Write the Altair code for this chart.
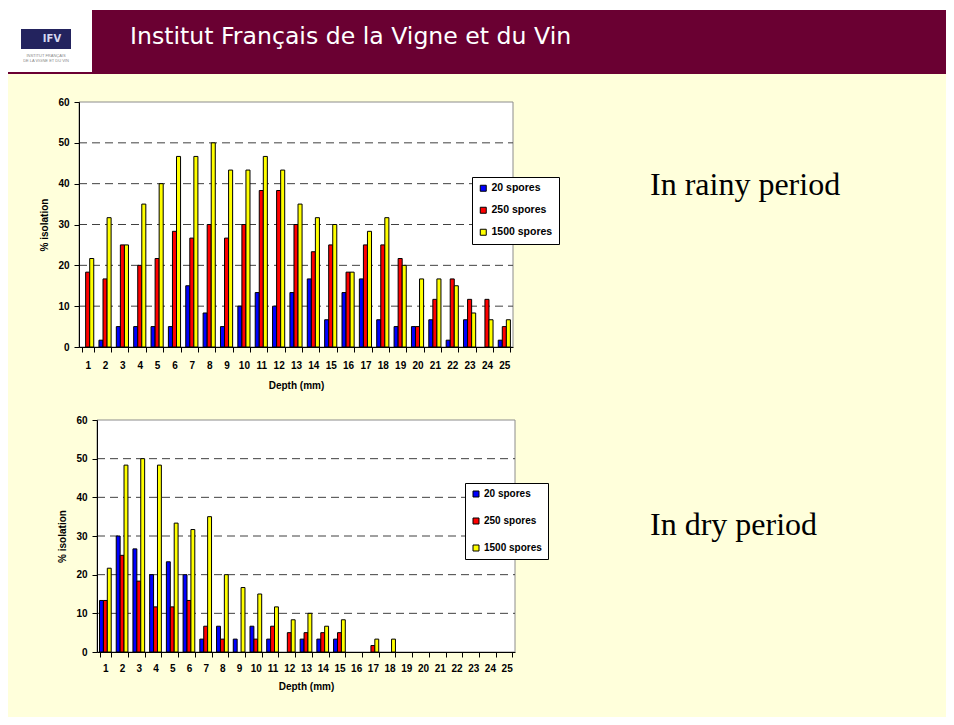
import altair as alt
import pandas as pd

# ---------------- data ----------------
depth = list(range(1, 26))
series_names = ["20 spores", "250 spores", "1500 spores"]
series_colors = ["#0000FF", "#FF0000", "#FFFF00"]
y_ticks = [0, 10, 20, 30, 40, 50, 60]
grid_values = [10, 20, 30, 40, 50]

rainy_20 = [0, 1.67, 5, 5, 5, 5, 15, 8.33, 5, 10, 13.33, 10, 13.33, 16.67, 6.67,
            13.33, 16.67, 6.67, 5, 5, 6.67, 1.67, 6.67, 0, 1.67]
rainy_250 = [18.33, 16.67, 25, 20, 21.67, 28.33, 26.67, 30, 26.67, 30, 38.33, 38.33, 30,
             23.33, 25, 18.33, 25, 25, 21.67, 5, 11.67, 16.67, 11.67, 11.67, 5]
rainy_1500 = [21.67, 31.67, 25, 35, 40, 46.67, 46.67, 50, 43.33, 43.33, 46.67, 43.33, 35,
              31.67, 30, 18.33, 28.33, 31.67, 20, 16.67, 16.67, 15, 8.33, 6.67, 6.67]
dry_20 = [13.33, 30, 26.67, 20, 23.33, 20, 3.33, 6.67, 3.33, 6.67, 3.33, 0, 3.33, 3.33,
          3.33, 0, 0, 0, 0, 0, 0, 0, 0, 0, 0]
dry_250 = [13.33, 25, 18.33, 11.67, 11.67, 13.33, 6.67, 3.33, 0, 3.33, 6.67, 5, 5, 5, 5,
           0, 1.67, 0, 0, 0, 0, 0, 0, 0, 0]
dry_1500 = [21.67, 48.33, 50, 48.33, 33.33, 31.67, 35, 20, 16.67, 15, 11.67, 8.33, 10,
            6.67, 8.33, 0, 3.33, 3.33, 0, 0, 0, 0, 0, 0, 0]

header_title = "Institut Français de la Vigne et du Vin"
rainy_label = "In rainy period"
dry_label = "In dry period"
x_title = "Depth (mm)"
y_title = "% isolation"

BG = "#FFFFDB"
MAROON = "#6A0032"
W, H = 938, 709
one = pd.DataFrame({"k": [0]})
grid_df = pd.DataFrame({"v": grid_values})

# panel frames (relative to chart origin): x0, x1, y_top, y_bottom
TOP = (71, 505, 94, 339)
BOT = (89, 507, 412, 644)


def to_long(s20, s250, s1500):
    rows = []
    for name, vals in zip(series_names, [s20, s250, s1500]):
        for d, v in zip(depth, vals):
            rows.append({"depth": d, "series": name, "value": v})
    return pd.DataFrame(rows)


def rect(x, x2, y, y2, color, stroke="transparent"):
    return alt.Chart(one).mark_rect(color=color, stroke=stroke, strokeWidth=1).encode(
        x=alt.value(x), x2=alt.value(x2), y=alt.value(y), y2=alt.value(y2))


def label(text, x, y, size, font, color, weight="normal", align="left", baseline="middle"):
    return alt.Chart(one).mark_text(
        text=text, font=font, fontSize=size, color=color, fontWeight=weight,
        align=align, baseline=baseline).encode(x=alt.value(x), y=alt.value(y))


def y_scale(frame):
    return alt.Scale(domain=[0, 60], range=[frame[3], frame[2]], nice=False)


def grid(frame):
    return alt.Chart(grid_df).mark_rule(color="#404040", strokeDash=[8, 5], strokeWidth=1).encode(
        y=alt.Y("v:Q", scale=y_scale(frame), axis=None),
        x=alt.value(frame[0]), x2=alt.value(frame[1]))


def bars(df, frame, lx, ly, pad, row_pad, lab_size, lab_pad, title_pad):
    x0, x1, yt, yb = frame
    bandwidth = (x1 - x0) / 25 * 0.7
    return alt.Chart(df).transform_filter("datum.value > 0").mark_bar(
        stroke="#000000", strokeWidth=1).encode(
        x=alt.X("depth:O", title=x_title,
                scale=alt.Scale(domain=depth, range=[x0, x1], paddingInner=0.3, paddingOuter=0.15),
                axis=alt.Axis(orient="bottom", offset=yb - H, labelAngle=0, tickBand="extent",
                              grid=False, labelPadding=lab_pad, titlePadding=title_pad, zindex=1)),
        xOffset=alt.XOffset("series:N", sort=series_names,
                            scale=alt.Scale(domain=series_names, range=[0, bandwidth])),
        y=alt.Y("value:Q", title=y_title, scale=y_scale(frame),
                axis=alt.Axis(orient="left", offset=-x0, values=y_ticks, grid=False,
                              labelPadding=5, titlePadding=8, zindex=1)),
        color=alt.Color("series:N", sort=series_names,
                        scale=alt.Scale(domain=series_names, range=series_colors),
                        legend=alt.Legend(
                            title=None, orient="none", legendX=lx, legendY=ly,
                            fillColor="white", strokeColor="black", padding=pad,
                            rowPadding=row_pad, symbolType="square", symbolSize=36,
                            symbolStrokeColor="black", symbolStrokeWidth=1,
                            labelFont="Liberation Sans", labelFontWeight="bold",
                            labelFontSize=lab_size, labelColor="black", labelOffset=3,
                            cornerRadius=0, symbolOpacity=1)),
    )


layers = [
    # header band
    rect(0, W, 0, 2, "white"),
    rect(0, W, 2, 66, MAROON),
    rect(0, 84, 2, 64, "white"),
    rect(13, 63, 21, 41, "#23235E"),
    label("IFV", 44, 31, 10, "DejaVu Sans", "#D8D8F0", "bold", "center"),
    label("INSTITUT FRANÇAIS", 38, 48, 4, "Liberation Sans", "#888888", align="center"),
    label("DE LA VIGNE ET DU VIN", 38, 53, 4, "Liberation Sans", "#888888", align="center"),
    label(header_title, 122, 29, 23.6, "DejaVu Sans", "white"),
    # side captions
    label(rainy_label, 642, 187, 32, "Liberation Serif", "black", baseline="alphabetic"),
    label(dry_label, 642, 527, 32, "Liberation Serif", "black", baseline="alphabetic"),
    # plot frames
    rect(TOP[0], TOP[1], TOP[2], TOP[3], "white", "#8C8C8C"),
    rect(BOT[0], BOT[1], BOT[2], BOT[3], "white", "#8C8C8C"),
    grid(TOP),
    grid(BOT),
    bars(to_long(rainy_20, rainy_250, rainy_1500), TOP, 464, 169, 6, 11, 10.5, 8, 10),
    bars(to_long(dry_20, dry_250, dry_1500), BOT, 457, 475, 6, 17, 10, 6, 8),
]

chart = alt.layer(*layers).resolve_scale(
    x="independent", y="independent", xOffset="independent", color="independent"
).resolve_axis(
    x="independent", y="independent"
).resolve_legend(
    color="independent"
).properties(
    width=W, height=H, autosize=alt.AutoSizeParams(type="none"),
    padding={"left": 0, "top": 0, "right": 0, "bottom": 0}
).configure(
    background=BG
).configure_view(
    fill="transparent", stroke="transparent"
).configure_axis(
    labelFont="Liberation Sans", labelFontWeight="bold", labelFontSize=10,
    labelColor="black", titleFont="Liberation Sans", titleFontWeight="bold",
    titleFontSize=10, titleColor="black", domainColor="black", tickColor="black",
    tickSize=5, domainWidth=1
)

chart.save("out.html", embed_options={"renderer": "svg", "actions": False})
